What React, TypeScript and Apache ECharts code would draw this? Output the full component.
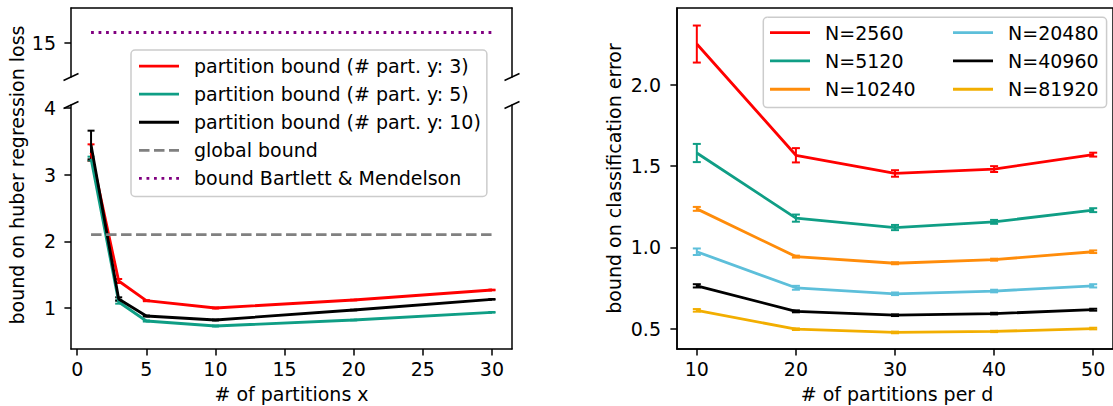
import React, { useEffect, useRef } from "react";
import * as echarts from "echarts";

// ---------- data: left panel (huber regression) ----------
const partitionsX = [1, 3, 5, 10, 20, 30];
const boundPartY3 = [3.33, 1.405, 1.11, 1.0, 1.12, 1.27];
const boundPartY3Err = [0.125, 0.03, 0.008, 0.006, 0.005, 0.005];
const boundPartY5 = [3.24, 1.09, 0.805, 0.73, 0.82, 0.935];
const boundPartY5Err = [0.03, 0.025, 0.008, 0.006, 0.005, 0.005];
const boundPartY10 = [3.445, 1.135, 0.88, 0.82, 0.97, 1.13];
const boundPartY10Err = [0.215, 0.025, 0.008, 0.006, 0.005, 0.005];
const globalBound = 2.1;
const bartlettBound = 15.29;
const leftXTicks = [0, 5, 10, 15, 20, 25, 30];
const leftYTicksLow = [1, 2, 3, 4];
const leftYTicksHigh = [15];

// ---------- data: right panel (classification) ----------
const partitionsPerD = [10, 20, 30, 40, 50];
const n2560 = [2.252, 1.567, 1.455, 1.482, 1.571];
const n2560Err = [0.114, 0.044, 0.02, 0.018, 0.012];
const n5120 = [1.581, 1.18, 1.122, 1.157, 1.229];
const n5120Err = [0.056, 0.022, 0.016, 0.012, 0.012];
const n10240 = [1.237, 0.943, 0.902, 0.924, 0.973];
const n10240Err = [0.012, 0.006, 0.006, 0.006, 0.008];
const n20480 = [0.973, 0.751, 0.714, 0.731, 0.763];
const n20480Err = [0.02, 0.012, 0.008, 0.008, 0.01];
const n40960 = [0.763, 0.606, 0.582, 0.592, 0.616];
const n40960Err = [0.01, 0.006, 0.005, 0.005, 0.006];
const n81920 = [0.612, 0.496, 0.476, 0.482, 0.5];
const n81920Err = [0.008, 0.005, 0.005, 0.004, 0.005];
const rightXTicks = [10, 20, 30, 40, 50];
const rightYTicks = [0.5, 1.0, 1.5, 2.0];

const FONT = "'DejaVu Sans', sans-serif";
const FS = 19;
const RED = "#ff0000";
const TEAL = "#0f9e85";
const ORANGE = "#ff8c0a";
const LBLUE = "#5dbfda";
const BLACK = "#000000";
const GOLD = "#f2ae00";

const ICON_SOLID = "rect";
const ICON_DASHED = "path://M0,0h10.5v2.8h-10.5z M15,0h10.5v2.8h-10.5z M30,0h10v2.8h-10z";
const ICON_DOTTED = "path://M0,0h2.8v2.8h-2.8z M7.5,0h2.8v2.8h-2.8z M15,0h2.8v2.8h-2.8z M22.5,0h2.8v2.8h-2.8z M30,0h2.8v2.8h-2.8z M37.2,0h2.8v2.8h-2.8z";

function lineSeries(name: string, xs: number[], ys: number[], color: string, xi: number, yi: number, dash?: any) {
  return {
    type: "line",
    name,
    xAxisIndex: xi,
    yAxisIndex: yi,
    symbol: "none",
    showSymbol: false,
    silent: true,
    color,
    itemStyle: { color },
    lineStyle: { color, width: 2.8, type: dash || "solid", cap: "butt" },
    data: xs.map((x, i) => [x, ys[i]]),
    z: 2,
  };
}

function errSeries(name: string, xs: number[], ys: number[], es: number[], color: string, xi: number, yi: number, capW: number) {
  return {
    type: "custom",
    name,
    xAxisIndex: xi,
    yAxisIndex: yi,
    silent: true,
    z: 2,
    encode: { x: 0, y: 1 },
    data: xs.map((x, i) => [x, ys[i], es[i]]),
    renderItem: (_p: any, api: any) => {
      const x = api.value(0);
      const y = api.value(1);
      const e = api.value(2);
      const lo = api.coord([x, y - e]);
      const hi = api.coord([x, y + e]);
      const h = capW / 2;
      const st = { stroke: color, lineWidth: 2 };
      return {
        type: "group",
        children: [
          { type: "line", shape: { x1: lo[0], y1: lo[1], x2: hi[0], y2: hi[1] }, style: st },
          { type: "line", shape: { x1: lo[0] - h, y1: lo[1], x2: lo[0] + h, y2: lo[1] }, style: st },
          { type: "line", shape: { x1: hi[0] - h, y1: hi[1], x2: hi[0] + h, y2: hi[1] }, style: st },
        ],
      };
    },
  };
}

const axisText = { color: "#000", fontSize: FS, fontFamily: FONT };
const spine = { show: true, onZero: false, lineStyle: { color: "#000", width: 1.5 } };
const tick = { show: true, length: 6.6, lineStyle: { color: "#000", width: 1.5 } };

function buildOption() {
  const l1 = "partition bound (# part. y: 3)";
  const l2 = "partition bound (# part. y: 5)";
  const l3 = "partition bound (# part. y: 10)";
  const l4 = "global bound";
  const l5 = "bound Bartlett & Mendelson";
  const rNames = ["N=2560", "N=5120", "N=10240", "N=20480", "N=40960", "N=81920"];
  const col1 = rNames.slice(0, 3);

  const breakMark = (x: number, y: number) => ({
    type: "line",
    shape: { x1: x - 7.5, y1: y + 3.5, x2: x + 7.5, y2: y - 3.5 },
    style: { stroke: "#000", lineWidth: 1.5 },
    z: 10,
  });

  return {
    animation: false,
    backgroundColor: "#fff",
    textStyle: { fontFamily: FONT },
    grid: [
      { left: 71, top: 8, width: 441, height: 69, show: false },
      { left: 71, top: 105, width: 441, height: 244, show: false },
      { left: 677, top: 8, width: 440, height: 341, show: true, borderColor: "#000", borderWidth: 1.5, backgroundColor: "transparent" },
    ],
    xAxis: [
      { type: "value", gridIndex: 0, position: "top", min: -0.45, max: 31.45, axisLine: spine, axisTick: { show: false }, axisLabel: { show: false }, splitLine: { show: false } },
      {
        type: "value", gridIndex: 1, position: "bottom", min: -0.45, max: 31.45,
        axisLine: spine,
        axisTick: { ...tick, customValues: leftXTicks },
        axisLabel: { ...axisText, margin: 10, customValues: leftXTicks },
        splitLine: { show: false },
      },
      {
        type: "value", gridIndex: 2, position: "bottom", min: 8, max: 52,
        axisLine: spine,
        axisTick: { ...tick, customValues: rightXTicks },
        axisLabel: { ...axisText, margin: 10, customValues: rightXTicks },
        splitLine: { show: false },
      },
    ],
    yAxis: [
      {
        type: "value", gridIndex: 0, position: "left", min: 14, max: 16,
        axisLine: spine,
        axisTick: { ...tick, customValues: leftYTicksHigh },
        axisLabel: { ...axisText, margin: 15, customValues: leftYTicksHigh },
        splitLine: { show: false },
      },
      { type: "value", gridIndex: 0, position: "right", min: 14, max: 16, axisLine: spine, axisTick: { show: false }, axisLabel: { show: false }, splitLine: { show: false } },
      {
        type: "value", gridIndex: 1, position: "left", min: 0.385, max: 4.045,
        axisLine: spine,
        axisTick: { ...tick, customValues: leftYTicksLow },
        axisLabel: { ...axisText, margin: 15, customValues: leftYTicksLow },
        splitLine: { show: false },
      },
      { type: "value", gridIndex: 1, position: "right", min: 0.385, max: 4.045, axisLine: spine, axisTick: { show: false }, axisLabel: { show: false }, splitLine: { show: false } },
      {
        type: "value", gridIndex: 2, position: "left", min: 0.374, max: 2.474,
        axisLine: spine,
        axisTick: { ...tick, customValues: rightYTicks },
        axisLabel: { ...axisText, margin: 16, customValues: rightYTicks, formatter: (v: number) => v.toFixed(1) },
        splitLine: { show: false },
      },
    ],
    legend: [
      {
        data: [
          { name: l1, icon: ICON_SOLID },
          { name: l2, icon: ICON_SOLID },
          { name: l3, icon: ICON_SOLID },
          { name: l4, icon: ICON_DASHED },
          { name: l5, icon: ICON_DOTTED },
        ],
        orient: "vertical",
        left: 131,
        top: 50,
        padding: [2, 6, 4, 8],
        itemGap: 0,
        itemWidth: 40,
        itemHeight: 2.8,
        selectedMode: false,
        backgroundColor: "rgba(255,255,255,0.8)",
        borderColor: "#cccccc",
        borderWidth: 1.5,
        borderRadius: 4,
        textStyle: { ...axisText, lineHeight: 28.1, padding: [0, 0, 0, 10] },
        z: 20,
      },
      {
        data: rNames.map((n) => ({ name: n, icon: ICON_SOLID })),
        orient: "vertical",
        left: 763.3,
        top: 17.3,
        height: 86,
        padding: [1.2, 8, 4.2, 6.7],
        itemGap: 0,
        itemWidth: 40,
        itemHeight: 2.8,
        selectedMode: false,
        backgroundColor: "rgba(255,255,255,0.8)",
        borderColor: "#cccccc",
        borderWidth: 1.5,
        borderRadius: 4,
        formatter: (name: string) => (col1.indexOf(name) >= 0 ? `{a|${name}}` : `{b|${name}}`),
        textStyle: {
          ...axisText,
          lineHeight: 28.3,
          padding: [0, 0, 0, 10],
          rich: {
            a: { width: 128, fontSize: FS, fontFamily: FONT, color: "#000", lineHeight: 28.3 },
            b: { fontSize: FS, fontFamily: FONT, color: "#000", lineHeight: 28.3 },
          },
        },
        z: 20,
      },
    ],
    graphic: [
      breakMark(71, 77),
      breakMark(71, 105),
      breakMark(512, 77),
      breakMark(512, 105),
      {
        type: "text", x: 17, y: 175, rotation: Math.PI / 2,
        style: { text: "bound on huber regression loss", fill: "#000", font: `${FS}px ${FONT}`, textAlign: "center", textVerticalAlign: "middle" },
      },
      {
        type: "text", x: 291.5, y: 394,
        style: { text: "# of partitions x", fill: "#000", font: `${FS}px ${FONT}`, textAlign: "center", textVerticalAlign: "middle" },
      },
      {
        type: "text", x: 614, y: 178.5, rotation: Math.PI / 2,
        style: { text: "bound on classification error", fill: "#000", font: `${FS}px ${FONT}`, textAlign: "center", textVerticalAlign: "middle" },
      },
      {
        type: "text", x: 897, y: 394,
        style: { text: "# of partitions per d", fill: "#000", font: `${FS}px ${FONT}`, textAlign: "center", textVerticalAlign: "middle" },
      },
    ],
    series: [
      lineSeries(l1, partitionsX, boundPartY3, RED, 1, 2),
      errSeries("err3", partitionsX, boundPartY3, boundPartY3Err, RED, 1, 2, 7),
      lineSeries(l2, partitionsX, boundPartY5, TEAL, 1, 2),
      errSeries("err5", partitionsX, boundPartY5, boundPartY5Err, TEAL, 1, 2, 7),
      lineSeries(l3, partitionsX, boundPartY10, BLACK, 1, 2),
      errSeries("err10", partitionsX, boundPartY10, boundPartY10Err, BLACK, 1, 2, 7),
      lineSeries(l4, [partitionsX[0], partitionsX[partitionsX.length - 1]], [globalBound, globalBound], "#808080", 1, 2, [10.5, 4.5]),
      lineSeries(l5, [partitionsX[0], partitionsX[partitionsX.length - 1]], [bartlettBound, bartlettBound], "#800080", 0, 0, [2.8, 4.7]),

      lineSeries(rNames[0], partitionsPerD, n2560, RED, 2, 4),
      errSeries("e0", partitionsPerD, n2560, n2560Err, RED, 2, 4, 8),
      lineSeries(rNames[1], partitionsPerD, n5120, TEAL, 2, 4),
      errSeries("e1", partitionsPerD, n5120, n5120Err, TEAL, 2, 4, 8),
      lineSeries(rNames[2], partitionsPerD, n10240, ORANGE, 2, 4),
      errSeries("e2", partitionsPerD, n10240, n10240Err, ORANGE, 2, 4, 8),
      lineSeries(rNames[3], partitionsPerD, n20480, LBLUE, 2, 4),
      errSeries("e3", partitionsPerD, n20480, n20480Err, LBLUE, 2, 4, 8),
      lineSeries(rNames[4], partitionsPerD, n40960, BLACK, 2, 4),
      errSeries("e4", partitionsPerD, n40960, n40960Err, BLACK, 2, 4, 8),
      lineSeries(rNames[5], partitionsPerD, n81920, GOLD, 2, 4),
      errSeries("e5", partitionsPerD, n81920, n81920Err, GOLD, 2, 4, 8),
    ],
  };
}

export default function App() {
  const ref = useRef<HTMLDivElement>(null);
  useEffect(() => {
    const chart = echarts.init(ref.current!, null, { renderer: "svg" });
    chart.setOption(buildOption() as any);
    return () => chart.dispose();
  }, []);
  return <div ref={ref} style={{ position: "fixed", left: 0, top: 0, width: 1113, height: 406 }} />;
}
